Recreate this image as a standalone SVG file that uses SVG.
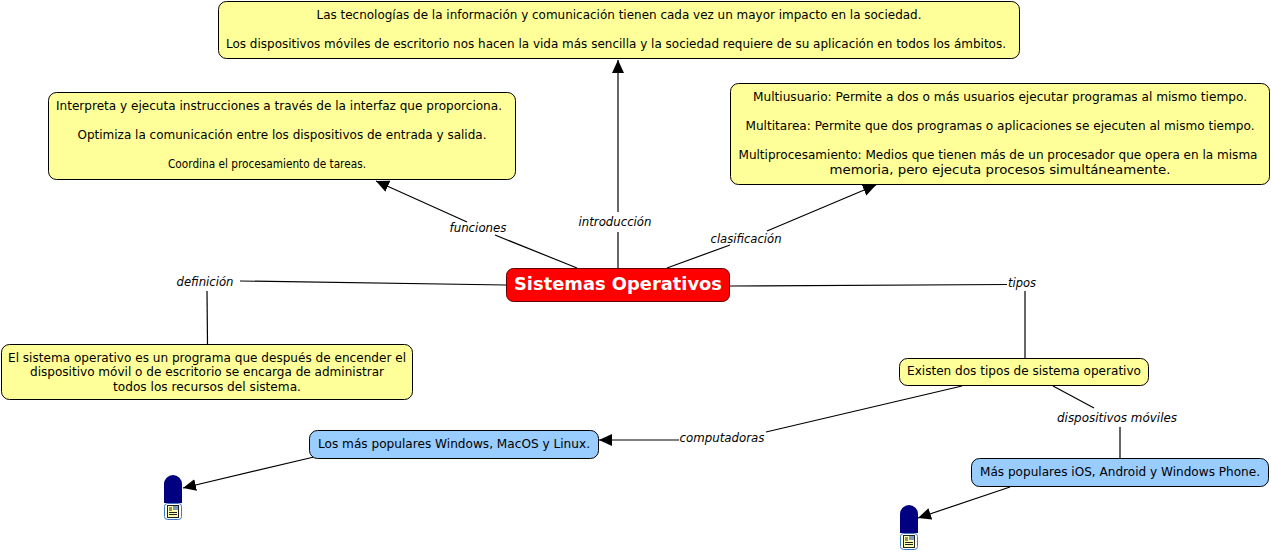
<svg xmlns="http://www.w3.org/2000/svg" width="1271" height="552" viewBox="0 0 1271 552">
<style>
text{font-family:"DejaVu Sans",Verdana,sans-serif;font-size:12px;fill:#000;text-anchor:middle}
.n{stroke:#000;stroke-width:1}
.y{fill:#ffff99}.b{fill:#99ccff}
.l{font-style:italic}
.c line{stroke:#000;stroke-width:1.2}
.title{font-size:18px;font-weight:bold;fill:#fff}
</style>
<defs>
<marker id="a" markerUnits="userSpaceOnUse" markerWidth="14" markerHeight="12" refX="13" refY="6" orient="auto"><path d="M0 0L13 6L0 12Z" fill="#000"/></marker>
<g id="res">
<path d="M0 28V9a9 9 0 0 1 18 0V28Z" fill="#000080"/>
<rect x="0.500" y="28.500" width="17" height="16" rx="3" fill="#fff" stroke="#3a78c8"/>
<rect x="3.500" y="30.500" width="11" height="12" fill="#ffffb0" stroke="#222"/>
<path d="M5 33h3M5 35h3M5 37.500h8M5 39.500h8" stroke="#222" stroke-width="1"/>
<rect x="9" y="31" width="5" height="4" fill="#7a9ac0"/>
</g>
</defs>
<g class="c" id="connectors">
<line x1="618" y1="268" x2="618" y2="232"/>
<line x1="618" y1="212" x2="618" y2="60" marker-end="url(#a)"/>
<line x1="577" y1="268" x2="495" y2="235"/>
<line x1="467" y1="222" x2="376" y2="181" marker-end="url(#a)"/>
<line x1="667" y1="268" x2="730" y2="245"/>
<line x1="767" y1="231" x2="876" y2="185" marker-end="url(#a)"/>
<line x1="506" y1="285" x2="240" y2="281"/>
<line x1="207" y1="291" x2="207.500" y2="344"/>
<line x1="730" y1="286" x2="1007" y2="284.500"/>
<line x1="1025" y1="291" x2="1025" y2="358"/>
<line x1="962" y1="386" x2="766" y2="432"/>
<line x1="679" y1="440" x2="599" y2="440" marker-end="url(#a)"/>
<line x1="1053" y1="386" x2="1094" y2="408"/>
<line x1="1120" y1="427" x2="1120" y2="458"/>
<line x1="314" y1="457" x2="183" y2="488" marker-end="url(#a)"/>
<line x1="1010" y1="487" x2="918" y2="518" marker-end="url(#a)"/>
</g>
<g id="node-intro"><rect class="n y" x="218.500" y="1.500" width="801" height="57" rx="8"/>
<text x="619" y="19" textLength="605" lengthAdjust="spacingAndGlyphs">Las tecnologías de la información y comunicación tienen cada vez un mayor impacto en la sociedad.</text>
<text x="616" y="48" textLength="780" lengthAdjust="spacingAndGlyphs">Los dispositivos móviles de escritorio nos hacen la vida más sencilla y la sociedad requiere de su aplicación en todos los ámbitos.</text></g>
<g id="node-funciones"><rect class="n y" x="48.500" y="92.500" width="467" height="87" rx="8"/>
<text x="279" y="110" textLength="446" lengthAdjust="spacingAndGlyphs">Interpreta y ejecuta instrucciones a través de la interfaz que proporciona.</text>
<text x="282" y="139" textLength="409" lengthAdjust="spacingAndGlyphs">Optimiza la comunicación entre los dispositivos de entrada y salida.</text>
<text x="267" y="168" textLength="198" lengthAdjust="spacingAndGlyphs">Coordina el procesamiento de tareas.</text></g>
<g id="node-clasificacion"><rect class="n y" x="730.500" y="83.500" width="539" height="101" rx="8"/>
<text x="1000" y="101" textLength="494" lengthAdjust="spacingAndGlyphs">Multiusuario: Permite a dos o más usuarios ejecutar programas al mismo tiempo.</text>
<text x="1000" y="130" textLength="509" lengthAdjust="spacingAndGlyphs">Multitarea: Permite que dos programas o aplicaciones se ejecuten al mismo tiempo.</text>
<text x="998" y="159" textLength="519" lengthAdjust="spacingAndGlyphs">Multiprocesamiento: Medios que tienen más de un procesador que opera en la misma</text>
<text x="1000" y="174" textLength="341" lengthAdjust="spacingAndGlyphs">memoria, pero ejecuta procesos simultáneamente.</text></g>
<g id="node-root"><rect x="506.500" y="268.500" width="223" height="33" rx="7" fill="#f00" stroke="#600"/>
<text class="title" x="618" y="290" textLength="208" lengthAdjust="spacingAndGlyphs">Sistemas Operativos</text></g>
<g id="node-definicion"><rect class="n y" x="1.500" y="344.500" width="411" height="55" rx="8"/>
<text x="207" y="362" textLength="398" lengthAdjust="spacingAndGlyphs">El sistema operativo es un programa que después de encender el</text>
<text x="207" y="376" textLength="354" lengthAdjust="spacingAndGlyphs">dispositivo móvil o de escritorio se encarga de administrar</text>
<text x="207" y="391" textLength="188" lengthAdjust="spacingAndGlyphs">todos los recursos del sistema.</text></g>
<g id="node-tipos"><rect class="n y" x="899.500" y="358.500" width="249" height="27" rx="8"/>
<text x="1024" y="375" textLength="234" lengthAdjust="spacingAndGlyphs">Existen dos tipos de sistema operativo</text></g>
<g id="node-pc"><rect class="n b" x="309.500" y="430.500" width="289" height="28" rx="8"/>
<text x="454" y="448" textLength="272" lengthAdjust="spacingAndGlyphs">Los más populares Windows, MacOS y Linux.</text></g>
<g id="node-movil"><rect class="n b" x="971.500" y="458.500" width="297" height="28" rx="8"/>
<text x="1120" y="476" textLength="280" lengthAdjust="spacingAndGlyphs">Más populares iOS, Android y Windows Phone.</text></g>
<g id="res-1"><use href="#res" x="164" y="475"/></g>
<g id="res-2"><use href="#res" x="900" y="505"/></g>
<g id="labels">
<text class="l" x="478" y="232" textLength="57" lengthAdjust="spacingAndGlyphs">funciones</text>
<text class="l" x="615" y="226" textLength="73" lengthAdjust="spacingAndGlyphs">introducción</text>
<text class="l" x="746" y="243" textLength="71" lengthAdjust="spacingAndGlyphs">clasificación</text>
<text class="l" x="205" y="286" textLength="57" lengthAdjust="spacingAndGlyphs">definición</text>
<text class="l" x="1022" y="287" textLength="28" lengthAdjust="spacingAndGlyphs">tipos</text>
<text class="l" x="722" y="442" textLength="85" lengthAdjust="spacingAndGlyphs">computadoras</text>
<text class="l" x="1117" y="422" textLength="120" lengthAdjust="spacingAndGlyphs">dispositivos móviles</text>
</g>
</svg>
